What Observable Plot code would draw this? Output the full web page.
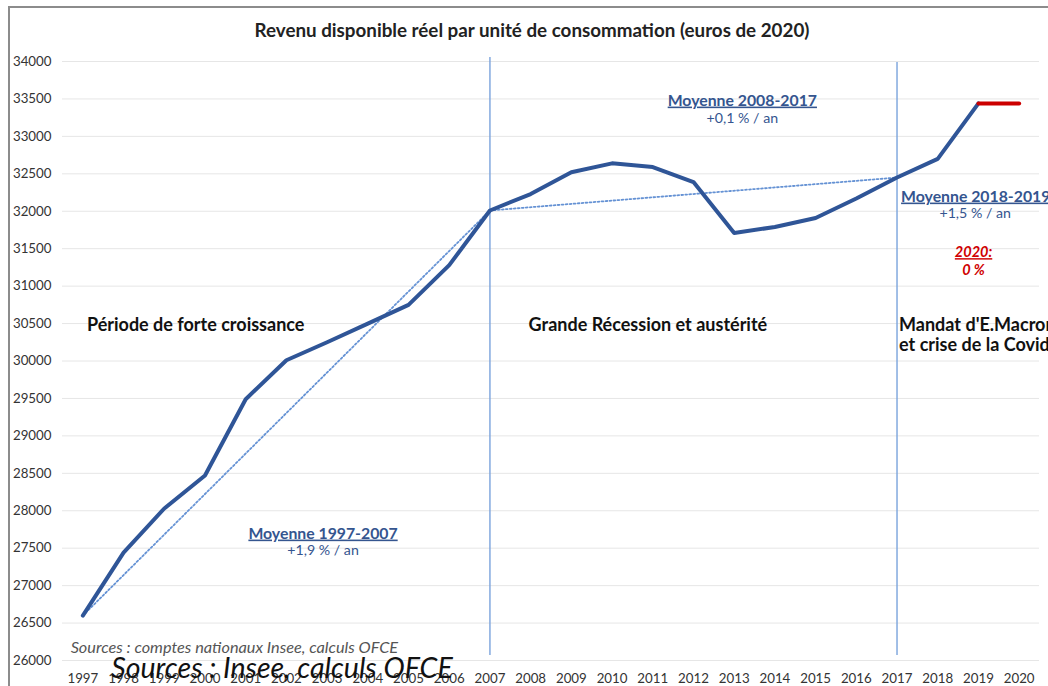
<!DOCTYPE html>
<html><head><meta charset="utf-8">
<script src="https://cdn.jsdelivr.net/npm/d3@7"></script>
<script src="https://cdn.jsdelivr.net/npm/@observablehq/plot@0.6"></script>
<style>
html,body{margin:0;padding:0;background:#fff;}
#wrap{position:relative;width:1048px;height:686px;overflow:hidden;font-family:Lato,"Open Sans",sans-serif;}
#frame{position:absolute;left:8px;top:6px;width:1200px;height:900px;border-left:2px solid #8c8c8c;border-top:2px solid #8c8c8c;}
#title{position:absolute;left:0;top:0;width:1064px;height:40px;line-height:60px;text-align:center;font-weight:bold;font-size:18.8px;color:#222;}
#chart{position:absolute;left:0;top:40px;}
</style></head>
<body><div id="wrap"><div id="frame"></div><div id="title">Revenu disponible réel par unité de consommation (euros de 2020)</div><div id="chart"></div></div>
<script>
const years = [1997,1998,1999,2000,2001,2002,2003,2004,2005,2006,2007,2008,2009,2010,2011,2012,2013,2014,2015,2016,2017,2018,2019];
const revenu = [26600,27440,28030,28470,29490,30010,30250,30500,30750,31280,32010,32230,32520,32640,32590,32390,31710,31790,31910,32170,32450,32700,33440];
const covidYears = [2019,2020];
const covidValues = [33440,33440];
const trendA = {years:[1997,2007], values:[26600,32010]};
const trendB = {years:[2007,2017], values:[32010,32450]};
const tickYears = [1997,1998,1999,2000,2001,2002,2003,2004,2005,2006,2007,2008,2009,2010,2011,2012,2013,2014,2015,2016,2017,2018,2019,2020];
const yTicks = [26000,26500,27000,27500,28000,28500,29000,29500,30000,30500,31000,31500,32000,32500,33000,33500,34000];
const periodYears = [2007,2017];
const periodTop = [34053,33987];
const periodBottom = [26067,26067];

const main = years.map((y,i)=>({year:y, v:revenu[i]}));
const covid = covidYears.map((y,i)=>({year:y, v:covidValues[i]}));
const tA = trendA.years.map((y,i)=>({year:y, v:trendA.values[i]}));
const tB = trendB.years.map((y,i)=>({year:y, v:trendB.values[i]}));
const rules = periodYears.map((y,i)=>({year:y, top:periodTop[i], bottom:periodBottom[i]}));

const periodLabels = [
  {x:1997.1, y:30474, t:"Période de forte croissance"},
  {x:2007.95, y:30474, t:"Grande Récession et austérité"},
  {x:2017.05, y:30474, t:"Mandat d'E.Macron"},
  {x:2017.05, y:30207, t:"et crise de la Covid"}
];
const moyTitlesMid = [
  {x:2002.9, y:27696, t:"Moyenne 1997-2007"},
  {x:2013.2, y:33479, t:"Moyenne 2008-2017"}
];
const moyTitlesStart = [
  {x:2017.1, y:32197, t:"Moyenne 2018-2019"}
];
const moyRates = [
  {x:2002.9, y:27469, t:"+1,9 % / an"},
  {x:2013.2, y:33239, t:"+0,1 % / an"},
  {x:2018.92, y:31970, t:"+1,5 % / an"}
];
const redLabels = [
  {x:2018.88, y:31449, t:"2020:"},
  {x:2018.88, y:31209, t:"0 %"}
];
const sourcesSmall = [{x:1996.7, y:26174, t:"Sources : comptes nationaux Insee, calculs OFCE"}];
const sourcesBig = [{x:1997.7, y:25893, t:"Sources : Insee, calculs OFCE"}];

const blue = "#2f5597";
const chart = Plot.plot({
  width:1048, height:646,
  marginLeft:62, marginRight:9, marginTop:21, marginBottom:26,
  style:{fontFamily:"Lato, 'Open Sans', sans-serif", fontSize:"13.3px", color:"#333", background:"transparent", overflow:"visible"},
  x:{domain:[1996.5,2020.5], ticks:tickYears, tickFormat:d=>String(d), tickSize:0, tickPadding:13, label:null},
  y:{domain:[26000,34000], ticks:yTicks, tickFormat:d=>String(d), tickSize:0, tickPadding:11, label:null},
  marks:[
    Plot.ruleY(yTicks, {stroke:"#e6e6e6", strokeWidth:1}),
    Plot.ruleX(rules, {x:"year", y1:"top", y2:"bottom", stroke:"#7aa3dc", strokeWidth:1.4}),
    Plot.line(tA, {x:"year", y:"v", stroke:"#6592d4", strokeWidth:1.8, strokeDasharray:"1.8,2.2"}),
    Plot.line(tB, {x:"year", y:"v", stroke:"#6592d4", strokeWidth:1.8, strokeDasharray:"1.8,2.2"}),
    Plot.line(main, {x:"year", y:"v", stroke:blue, strokeWidth:4, strokeLinejoin:"round", strokeLinecap:"round"}),
    Plot.line(covid, {x:"year", y:"v", stroke:"#cc0000", strokeWidth:4}),
    Plot.text(periodLabels, {x:"x", y:"y", text:"t", textAnchor:"start", fontWeight:"bold", fontSize:18, fill:"#111"}),
    Plot.text(moyTitlesMid, {x:"x", y:"y", text:"t", textAnchor:"middle", fontWeight:"bold", fontSize:15.8, fill:"#34558f"}),
    Plot.text(moyTitlesStart, {x:"x", y:"y", text:"t", textAnchor:"start", fontWeight:"bold", fontSize:15.8, fill:"#34558f"}),
    Plot.text(moyRates, {x:"x", y:"y", text:"t", fontSize:14.2, fill:"#34558f"}),
    Plot.text(redLabels, {x:"x", y:"y", text:"t", fontSize:14.5, fontWeight:"bold", fontStyle:"italic", fill:"#d00000"}),
    Plot.text(sourcesSmall, {x:"x", y:"y", text:"t", textAnchor:"start", fontSize:16.3, fontStyle:"italic", fill:"#555"}),
    Plot.text(sourcesBig, {x:"x", y:"y", text:"t", textAnchor:"start", fontSize:28.5, fontStyle:"italic", fill:"#111"})
  ]
});
document.getElementById("chart").appendChild(chart);
d3.select(chart).selectAll("text").each(function(){
  const s = this.textContent;
  if (s.startsWith("Moyenne") || s === "2020:") d3.select(this).style("text-decoration","underline");
});
</script></body></html>
